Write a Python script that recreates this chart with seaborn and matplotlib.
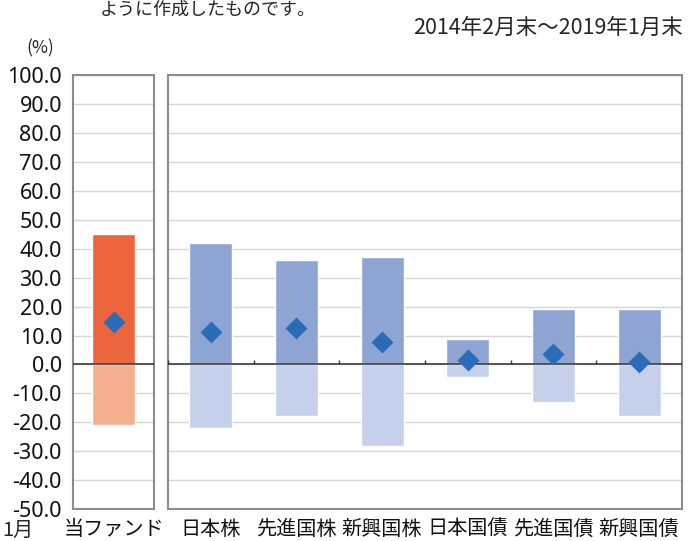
import pandas as pd
import numpy as np
import matplotlib.pyplot as plt
import seaborn as sns

fund_name = ['当ファンド']
fund_max = [45.1]
fund_min = [-20.8]
fund_avg = [14.8]

assets = ['日本株', '先進国株', '新興国株', '日本国債', '先進国債', '新興国債']
asset_max = [41.9, 36.1, 37.1, 8.8, 19.3, 19.3]
asset_min = [-22.1, -17.7, -28.3, -4.3, -12.9, -17.9]
asset_avg = [11.2, 12.6, 7.8, 1.4, 3.5, 0.9]

yticks = np.arange(-50, 101, 10)

df_fund = pd.DataFrame({'name': fund_name, 'max': fund_max, 'min': fund_min, 'avg': fund_avg})
df_asset = pd.DataFrame({'name': assets, 'max': asset_max, 'min': asset_min, 'avg': asset_avg})

sns.set_theme(style='white')
plt.rcParams['font.family'] = ['Noto Sans CJK JP', 'DejaVu Sans']

fig = plt.figure(figsize=(6.89, 5.41), dpi=100)
ax1 = fig.add_axes([0.106, 0.059, 0.1176, 0.802])
ax2 = fig.add_axes([0.2438, 0.059, 0.746, 0.802])

diamond = '#2B6CB8'


def draw(ax, df, c_pos, c_neg, width):
    sns.barplot(data=df, x='name', y='max', color=c_pos, width=width,
                saturation=1, ax=ax, zorder=2)
    sns.barplot(data=df, x='name', y='min', color=c_neg, width=width,
                saturation=1, ax=ax, zorder=2)
    ax.axhline(0, color='#3A3A3A', lw=1.2, zorder=3)
    sns.pointplot(data=df, x='name', y='avg', color=diamond, markers='D',
                  linestyle='none', markersize=9.5, errorbar=None, ax=ax, zorder=4)
    ax.set_ylim(-50, 100)
    ax.set_xlim(-0.5, len(df) - 0.5)
    ax.set_yticks(yticks)
    ax.yaxis.grid(True, color='#D6D6D6', lw=1)
    ax.set_axisbelow(True)
    ax.set_xlabel('')
    ax.set_ylabel('')
    for s in ax.spines.values():
        s.set_color('#8C8C8C')
        s.set_linewidth(1.5)
    ax.tick_params(axis='x', length=0, pad=7, labelsize=14.5, labelcolor='#111111')
    ax.tick_params(axis='y', length=0, pad=8, labelcolor='#111111')


draw(ax1, df_fund, '#EC653C', '#F4B08E', 0.52)
draw(ax2, df_asset, '#8EA5D4', '#C5D0EA', 0.5)

ax1.set_yticklabels([f'{v:.1f}' for v in yticks], family=['Noto Sans', 'DejaVu Sans'],
                    fontsize=15.5)
ax2.set_yticklabels([])

# small ticks on the zero line between categories
ax2.vlines(np.arange(len(assets) + 1) - 0.5, 0, 1.6, color='#3A3A3A', lw=1, zorder=3)

fig.text(0.991, 0.948, '2014年2月末～2019年1月末', ha='right', va='center', fontsize=15.5)
fig.text(0.058, 0.911, '(%)', ha='center', va='center', fontsize=12.5)
fig.text(0.145, 0.982, 'ように作成したものです。', ha='left', va='center', fontsize=13)
fig.text(0.003, 0.02, '1月', ha='left', va='center', fontsize=14.5)

fig.savefig('out.png', dpi=100)
